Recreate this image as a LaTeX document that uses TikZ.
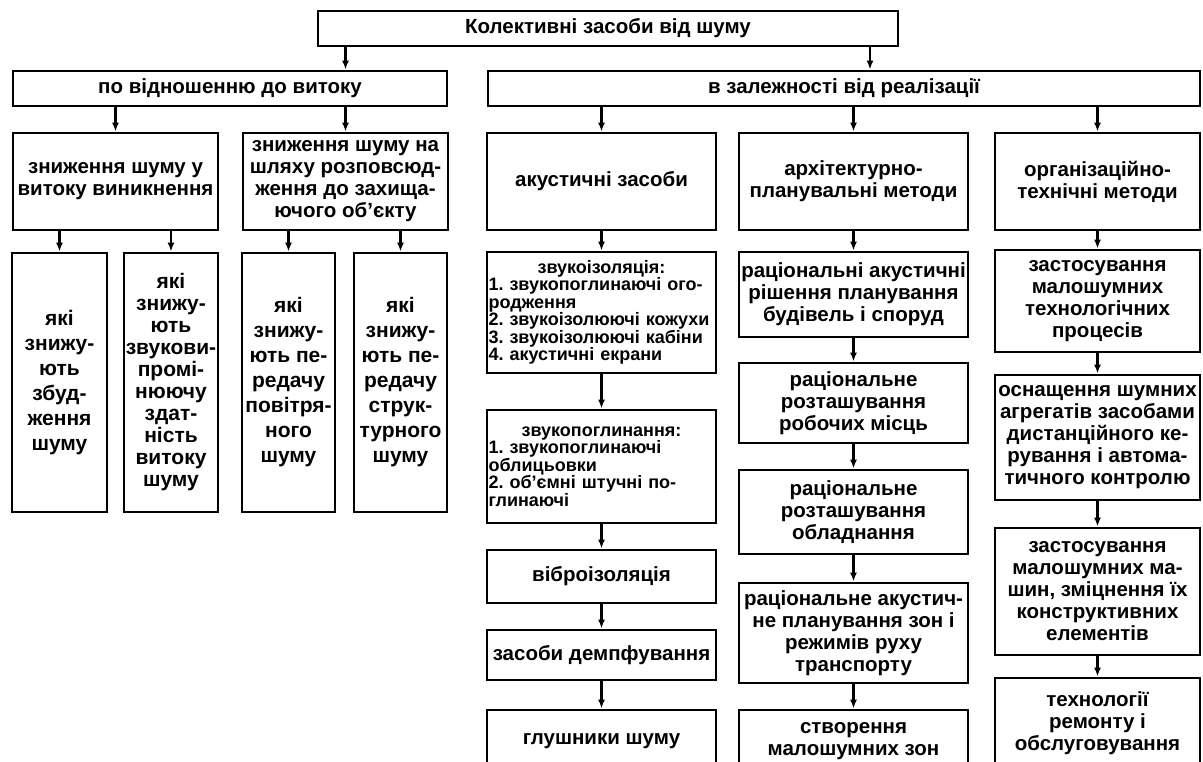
\documentclass[tikz,border=0pt]{standalone}
\usepackage{fontspec}
\setmainfont{Liberation Sans}
\usepackage{tikz}
\usetikzlibrary{arrows.meta}
\frenchspacing

\begin{document}
\begin{tikzpicture}[x=1pt,y=-1pt,
bx/.style={draw=black,line width=2.8pt,inner xsep=0.5pt,inner ysep=2pt,align=center,font=\bfseries\fontsize{20.5}{22}\selectfont},
kx/.style={bx,minimum height=259,font=\bfseries\fontsize{21}{25}\selectfont},
lst/.style={bx,align=left,inner xsep=1.5pt,text width=226,minimum height=#1,font=\bfseries\fontsize{18}{17.5}\selectfont},
arr/.style={-{Latex[length=9pt,width=7pt]},line width=2.4pt}
]
\clip (0,0) rectangle (1203,762);
\node[bx,minimum width=580,minimum height=35] (t) at (608,28.5) {Колективні засоби від шуму};
\node[bx,minimum width=434,minimum height=35] (vyt) at (230,88.5) {по відношенню до витоку};
\node[bx,minimum width=712,minimum height=35] (real) at (844,88.5) {в залежності від реалізації};
\coordinate (tr) at (870,0);

\node[bx,minimum width=205,minimum height=97] (s1) at (115.5,181.5) {зниження шуму у\\витоку виникнення};
\node[bx,minimum width=205,minimum height=97] (s2) at (345.5,181.5) {зниження шуму на\\шляху розповсюд-\\ження до захища-\\ючого об'єкту};
\node[kx,minimum width=95] (k1) at (59.5,382.5) {які\\знижу-\\ють\\збуд-\\ження\\шуму};
\node[kx,minimum width=94,font=\bfseries\fontsize{21}{22}\selectfont] (k2) at (171,382.5) {які\\знижу-\\ють\\звукови-\\промі-\\нюючу\\здат-\\ність\\витоку\\шуму};
\node[kx,minimum width=93] (k3) at (288.5,382.5) {які\\знижу-\\ють пе-\\редачу\\повітря-\\ного\\шуму};
\node[kx,minimum width=93] (k4) at (400.5,382.5) {які\\знижу-\\ють пе-\\редачу\\струк-\\турного\\шуму};

\node[bx,minimum width=229,minimum height=97] (ak) at (601.5,181.5) {акустичні засоби};
\node[lst=121] (ak1) at (601.5,312.5) {\makebox[\linewidth]{звукоізоляція:}\\1. звукопоглинаючі ого-\\родження\\2. звукоізолюючі кожухи\\3. звукоізолюючі кабіни\\4. акустичні екрани};
\node[lst=113] (ak2) at (601.5,466.5) {\makebox[\linewidth]{звукопоглинання:}\\1. звукопоглинаючі\\облицьовки\\2. об'ємні штучні по-\\глинаючі};
\node[bx,minimum width=229,minimum height=53] (ak3) at (601.5,576.5) {віброізоляція};
\node[bx,minimum width=229,minimum height=50] (ak4) at (601.5,655) {засоби демпфування};
\node[bx,minimum width=229,minimum height=62] (ak5) at (601.5,741) {глушники шуму};

\node[bx,minimum width=229,minimum height=97] (ar) at (853.5,181.5) {архітектурно-\\планувальні методи};
\node[bx,minimum width=229,minimum height=85] (ar1) at (853.5,294.5) {раціональні акустичні\\рішення планування\\будівель і споруд};
\node[bx,minimum width=229,minimum height=80] (ar2) at (853.5,403) {раціональне\\розташування\\робочих місць};
\node[bx,minimum width=229,minimum height=84] (ar3) at (853.5,512) {раціональне\\розташування\\обладнання};
\node[bx,minimum width=229,minimum height=100] (ar4) at (853.5,633) {раціональне акустич-\\не планування зон і\\режимів руху\\транспорту};
\node[bx,minimum width=229,minimum height=62] (ar5) at (853.5,741) {створення\\малошумних зон};

\node[bx,minimum width=205,minimum height=97] (org) at (1097.5,181.5) {організаційно-\\технічні методи};
\node[bx,minimum width=205,minimum height=102] (or1) at (1097.5,301) {застосування\\малошумних\\технологічних\\процесів};
\node[bx,minimum width=205,minimum height=125] (or2) at (1097.5,437.5) {оснащення шумних\\агрегатів засобами\\дистанційного ке-\\рування і автома-\\тичного контролю};
\node[bx,minimum width=205,minimum height=127] (or3) at (1097.5,591.5) {застосування\\малошумних ма-\\шин, зміцнення їх\\конструктивних\\елементів};
\node[bx,minimum width=205,minimum height=90] (or4) at (1097.5,723) {технології\\ремонту і\\обслуговування};

\draw[arr] (t.south -| s2) -- (vyt.north -| s2);
\draw[arr] (t.south -| tr) -- (real.north -| tr);
\draw[arr] (vyt.south -| s1) -- (s1);
\draw[arr] (vyt.south -| s2) -- (s2);
\draw[arr] (s1.south -| k1) -- (k1);
\draw[arr] (s1.south -| k2) -- (k2);
\draw[arr] (s2.south -| k3) -- (k3);
\draw[arr] (s2.south -| k4) -- (k4);
\draw[arr] (real.south -| ak) -- (ak);
\draw[arr] (real.south -| ar) -- (ar);
\draw[arr] (real.south -| org) -- (org);
\draw[arr] (ak) -- (ak1);
\draw[arr] (ak1) -- (ak2);
\draw[arr] (ak2) -- (ak3);
\draw[arr] (ak3) -- (ak4);
\draw[arr] (ak4) -- (ak5);
\draw[arr] (ar) -- (ar1);
\draw[arr] (ar1) -- (ar2);
\draw[arr] (ar2) -- (ar3);
\draw[arr] (ar3) -- (ar4);
\draw[arr] (ar4) -- (ar5);
\draw[arr] (org) -- (or1);
\draw[arr] (or1) -- (or2);
\draw[arr] (or2) -- (or3);
\draw[arr] (or3) -- (or4);
\end{tikzpicture}
\end{document}
